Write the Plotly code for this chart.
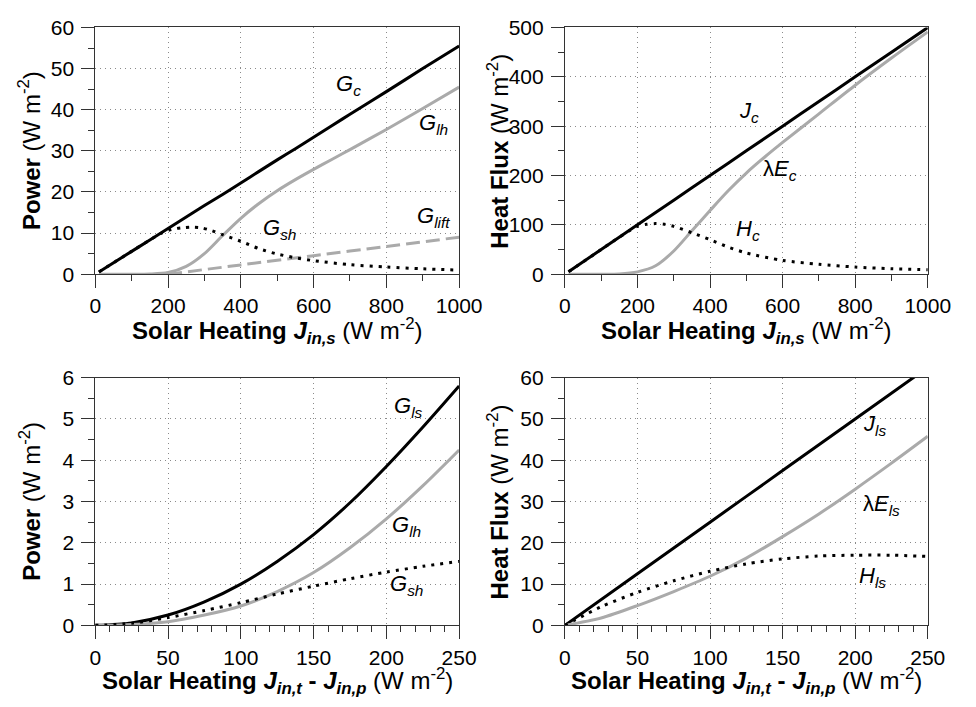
import plotly.graph_objects as go

# ---------------- data ----------------
# Top panels: x = solar heating J_in,s (W m-2)
j_top = [10, 100, 150, 200, 250, 300, 350, 400, 450, 500, 550, 600, 650, 700, 800, 900, 1000]
g_c   = [0.55, 5.55, 8.3, 11.1, 13.9, 16.7, 19.4, 22.2, 25.0, 27.8, 30.5, 33.3, 36.1, 38.9, 44.4, 50.0, 55.5]

j_glh = [10, 100, 150, 200, 250, 300, 350, 400, 450, 500, 550, 600, 650, 700, 800, 900, 1000]
g_lh  = [0.0, 0.0, 0.05, 0.4, 1.9, 5.0, 9.4, 13.6, 17.2, 20.3, 23.0, 25.5, 27.9, 30.3, 35.2, 40.3, 45.5]

j_gsh = [10, 100, 150, 180, 210, 240, 265, 290, 320, 350, 400, 450, 500, 550, 600, 700, 800, 900, 1000]
g_sh  = [0.55, 5.55, 8.3, 9.9, 10.9, 11.3, 11.45, 11.3, 10.6, 9.6, 8.0, 6.2, 4.9, 4.0, 3.3, 2.3, 1.75, 1.3, 1.0]

j_glift = [200, 400, 600, 800, 1000]
g_lift  = [0.0, 2.25, 4.5, 6.75, 9.0]

j_c  = [10, 100, 200, 300, 400, 500, 600, 700, 800, 900, 1000]
jc   = [5, 50, 100, 150, 200, 250, 300, 350, 400, 450, 500]

j_lec = [10, 100, 150, 200, 250, 300, 350, 400, 450, 500, 550, 600, 700, 800, 900, 1000]
le_c  = [0, 0, 0.5, 4.6, 17, 47, 88, 129, 169, 205, 237, 267, 325, 383, 438, 491]

j_hc = [10, 100, 150, 180, 200, 225, 250, 275, 300, 350, 400, 450, 500, 600, 700, 800, 900, 1000]
h_c  = [5, 50, 75, 89, 97, 101, 102.5, 101, 97, 84, 70, 55, 43, 28, 20, 14.5, 11, 9]

# Bottom panels: x = J_in,t - J_in,p (W m-2)
j_bot = [0, 25, 50, 75, 100, 125, 150, 175, 200, 225, 250]
g_ls  = [0, 0.06, 0.25, 0.57, 1.0, 1.55, 2.2, 2.97, 3.85, 4.8, 5.8]
g_lh2 = [0, 0.02, 0.09, 0.25, 0.47, 0.82, 1.28, 1.88, 2.58, 3.38, 4.25]
g_sh2 = [0, 0.05, 0.19, 0.36, 0.55, 0.76, 0.95, 1.13, 1.29, 1.43, 1.55]

j_ls  = [0, 50, 100, 150, 200, 250]
jls   = [0, 12.5, 25, 37.5, 50, 62.5]
le_ls = [0, 1.8, 4.8, 8.2, 11.9, 16.3, 21.5, 27.0, 33.0, 39.3, 45.8]
h_ls  = [0, 4.5, 8.0, 10.8, 13.1, 14.9, 16.1, 16.8, 17.0, 17.0, 16.7]

# ---------------- styling ----------------
FONT = "Liberation Sans, Arial, Helvetica, sans-serif"
BLACK = "#000000"
GRAY = "#aaaaaa"
DOT = "3px,6px"
DASH = "14px,6px"

fig = go.Figure()

def add(x, y, color, dash, xa, ya):
    fig.add_trace(go.Scatter(
        x=x, y=y, mode="lines", xaxis=xa, yaxis=ya, showlegend=False,
        line=dict(color=color, width=3, dash=dash, shape="spline", smoothing=0.8),
        hoverinfo="skip"))

# top-left
add(j_top, g_c, BLACK, "solid", "x", "y")
add(j_glh, g_lh, GRAY, "solid", "x", "y")
add(j_glift, g_lift, GRAY, DASH, "x", "y")
add(j_gsh, g_sh, BLACK, DOT, "x", "y")
# top-right
add(j_c, jc, BLACK, "solid", "x2", "y2")
add(j_lec, le_c, GRAY, "solid", "x2", "y2")
add(j_hc, h_c, BLACK, DOT, "x2", "y2")
# bottom-left
add(j_bot, g_ls, BLACK, "solid", "x3", "y3")
add(j_bot, g_lh2, GRAY, "solid", "x3", "y3")
add(j_bot, g_sh2, BLACK, DOT, "x3", "y3")
# bottom-right
add(j_ls, jls, BLACK, "solid", "x4", "y4")
add(j_bot, le_ls, GRAY, "solid", "x4", "y4")
add(j_bot, h_ls, BLACK, DOT, "x4", "y4")

W, H = 976, 707
def px(x):
    return x / W
def py(y):
    return 1 - y / H

xl = [px(92), px(467)]
xr = [px(576), px(950)]
yt = [py(271), py(16)]
yb = [py(634), py(378)]

def axis(domain, rng, dtick, mdtick, anchor, standoff):
    return dict(
        domain=domain, range=rng, dtick=dtick, tick0=0, anchor=anchor,
        showline=True, linecolor="#333333", linewidth=1, mirror=True,
        ticks="outside", ticklen=13, tickwidth=1, tickcolor="#333333",
        ticklabelstandoff=standoff,
        tickfont=dict(family=FONT, size=21, color="black"),
        showgrid=True, gridcolor="#8a8a8a", gridwidth=1, griddash="1px,4px",
        zeroline=False, fixedrange=True,
        minor=dict(dtick=mdtick, ticks="outside", ticklen=6, tickwidth=1,
                   tickcolor="#333333", showgrid=False),
    )

fig.update_layout(
    width=W, height=H,
    margin=dict(l=0, r=0, t=0, b=0),
    paper_bgcolor="white", plot_bgcolor="white",
    font=dict(family=FONT, color="black"),
    xaxis=axis(xl, [0, 1000], 200, 100, "y", 0),
    yaxis=axis(yt, [0, 60], 10, 5, "x", 3),
    xaxis2=axis(xr, [0, 1000], 200, 100, "y2", 0),
    yaxis2=axis(yt, [0, 500], 100, 50, "x2", 3),
    xaxis3=axis(xl, [0, 250], 50, 10, "y3", 0),
    yaxis3=axis(yb, [0, 6], 1, 0.5, "x3", 3),
    xaxis4=axis(xr, [0, 250], 50, 10, "y4", 0),
    yaxis4=axis(yb, [0, 60], 10, 5, "x4", 3),
)

ann = []
def label(text, x, y, xa, ya, size=22):
    ann.append(dict(text=text, x=x, y=y, xref=xa, yref=ya, showarrow=False,
                    font=dict(family=FONT, size=size, color="black"),
                    xanchor="center", yanchor="middle"))

# curve labels
label("<i>G<sub>c</sub></i>", 695, 46, "x", "y")
label("<i>G<sub>lh</sub></i>", 930, 36.5, "x", "y")
label("<i>G<sub>sh</sub></i>", 505, 11, "x", "y")
label("<i>G<sub>lift</sub></i>", 930, 13.8, "x", "y")

label("<i>J<sub>c</sub></i>", 508, 328, "x2", "y2")
label("λ<i>E<sub>c</sub></i>", 594, 212, "x2", "y2")
label("<i>H<sub>c</sub></i>", 505, 90, "x2", "y2")

label("<i>G<sub>ls</sub></i>", 215, 5.3, "x3", "y3")
label("<i>G<sub>lh</sub></i>", 214, 2.4, "x3", "y3")
label("<i>G<sub>sh</sub></i>", 214, 0.98, "x3", "y3")

label("<i>J<sub>ls</sub></i>", 213, 48.5, "x4", "y4")
label("λ<i>E<sub>ls</sub></i>", 218, 29.2, "x4", "y4")
label("<i>H<sub>ls</sub></i>", 212, 11.7, "x4", "y4")

# axis titles
def title(text, x, y, angle=0):
    ann.append(dict(text=text, x=x, y=y, xref="paper", yref="paper", showarrow=False,
                    textangle=angle, font=dict(family=FONT, size=24, color="black"),
                    xanchor="center", yanchor="middle"))

xt_top = "<b>Solar Heating <i>J<sub>in,s</sub></i></b> (W m<sup>-2</sup>)"
xt_bot = "<b>Solar Heating <i>J<sub>in,t</sub></i> - <i>J<sub>in,p</sub></i></b> (W m<sup>-2</sup>)"
title(xt_top, (xl[0] + xl[1]) / 2, py(330))
title(xt_top, (xr[0] + xr[1]) / 2, py(330))
title(xt_bot, (xl[0] + xl[1]) / 2, py(692))
title(xt_bot, (xr[0] + xr[1]) / 2, py(692))
title("<b>Power</b> (W m<sup>-2</sup>)", px(24), (yt[0] + yt[1]) / 2, -90)
title("<b>Heat Flux</b> (W m<sup>-2</sup>)", px(507), (yt[0] + yt[1]) / 2, -90)
title("<b>Power</b> (W m<sup>-2</sup>)", px(24), (yb[0] + yb[1]) / 2, -90)
title("<b>Heat Flux</b> (W m<sup>-2</sup>)", px(507), (yb[0] + yb[1]) / 2, -90)

fig.update_layout(annotations=ann)
fig.write_html("out.html")
